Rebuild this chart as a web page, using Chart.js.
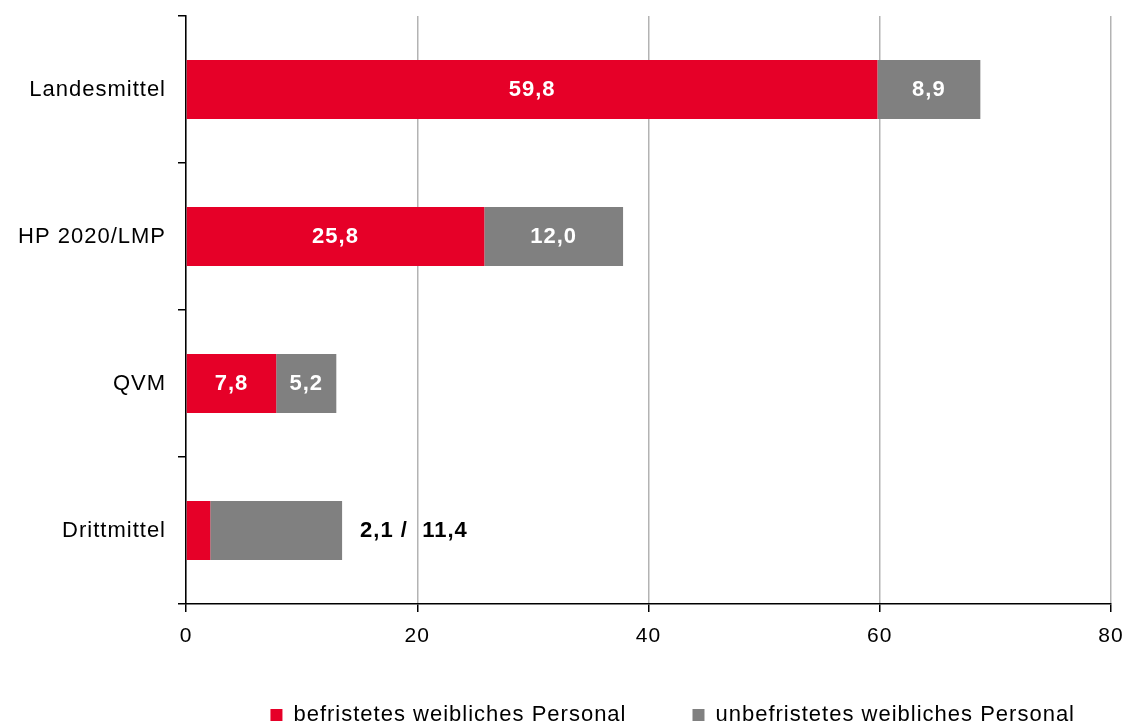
<!DOCTYPE html>
<html>
<head>
<meta charset="utf-8">
<script src="https://cdn.jsdelivr.net/npm/chart.js@4/dist/chart.umd.min.js"></script>
<style>
  html, body { margin: 0; padding: 0; background: #fff; }
  canvas { display: block; }
</style>
</head>
<body>
<canvas id="chartPersonal" width="1127" height="725"></canvas>
<script>
// data
let kategorien = ["Landesmittel", "HP 2020/LMP", "QVM", "Drittmittel"];
let befristet = [59.8, 25.8, 7.8, 2.1];
let unbefristet = [8.9, 12.0, 5.2, 11.4];
let xTicks = [0, 20, 40, 60, 80];
let serien = ["befristetes weibliches Personal", "unbefristetes weibliches Personal"];

const ROT = "#e60028";
const GRAU = "#808080";
const FONT = "'Liberation Sans', Arial, sans-serif";

function komma(v) {
  return v.toFixed(1).replace(".", ",");
}

// letter spacing like the original (canvas state gets reset on resize)
const spacing = {
  id: "spacing",
  beforeUpdate(chart) { chart.ctx.letterSpacing = "1px"; },
  beforeDraw(chart) { chart.ctx.letterSpacing = "1px"; },
  afterLayout(chart) {
    // legend sits a bit right of centre and a bit higher in the original
    chart.legend.right += 30;
    chart.legend.top -= 10;
  }
};

// value labels inside the bars, or next to the bar when the red part is too small
const werte = {
  id: "werte",
  afterDatasetsDraw(chart) {
    let ctx = chart.ctx;
    let m0 = chart.getDatasetMeta(0).data;
    let m1 = chart.getDatasetMeta(1).data;
    ctx.save();
    ctx.font = "bold 22px " + FONT;
    ctx.textBaseline = "middle";
    kategorien.forEach((k, i) => {
      let a = m0[i], b = m1[i];
      if (befristet[i] < 4) {
        ctx.fillStyle = "#000";
        ctx.textAlign = "left";
        ctx.fillText(komma(befristet[i]) + " /  " + komma(unbefristet[i]), b.x + 18, b.y);
      } else {
        ctx.fillStyle = "#fff";
        ctx.textAlign = "center";
        ctx.fillText(komma(befristet[i]), (a.base + a.x) / 2, a.y);
        ctx.fillText(komma(unbefristet[i]), (b.base + b.x) / 2, b.y);
      }
    });
    ctx.restore();
  }
};

let ctx = document.getElementById("chartPersonal").getContext("2d");

let chart = new Chart(ctx, {
  type: "bar",
  data: {
    labels: kategorien,
    datasets: [
      { label: serien[0], data: befristet, backgroundColor: ROT },
      { label: serien[1], data: unbefristet, backgroundColor: GRAU }
    ]
  },
  options: {
    indexAxis: "y",
    responsive: false,
    animation: false,
    devicePixelRatio: 1,
    categoryPercentage: 1,
    barPercentage: 0.4,
    layout: { padding: { top: 16, right: 16, left: 0, bottom: 0 } },
    scales: {
      x: {
        stacked: true,
        min: 0,
        max: 80,
        afterBuildTicks: s => { s.ticks = xTicks.map(v => ({ value: v })); },
        afterFit: s => { s.height = 44; s.paddingLeft = 0; s.paddingRight = 0; },
        grid: {
          color: "#b3b3b3",
          lineWidth: 1.5,
          tickColor: "#000",
          tickLength: 8
        },
        border: { color: "#000", width: 1.5 },
        ticks: {
          color: "#000",
          padding: 12,
          font: { family: FONT, size: 21 }
        }
      },
      y: {
        stacked: true,
        afterFit: s => { s.width = 186; s.paddingTop = 0; s.paddingBottom = 0; },
        grid: {
          offset: true,
          drawOnChartArea: false,
          tickColor: "#000",
          tickLength: 8,
          lineWidth: 1.5
        },
        border: { color: "#000", width: 1.5 },
        ticks: {
          color: "#000",
          padding: 12,
          font: { family: FONT, size: 22 }
        }
      }
    },
    plugins: {
      legend: {
        position: "bottom",
        align: "end",
        maxHeight: 77,
        labels: {
          boxWidth: 12,
          boxHeight: 12,
          padding: 66,
          color: "#000",
          font: { family: FONT, size: 22 }
        }
      },
      tooltip: { enabled: false }
    }
  },
  plugins: [spacing, werte]
});
</script>
</body>
</html>
